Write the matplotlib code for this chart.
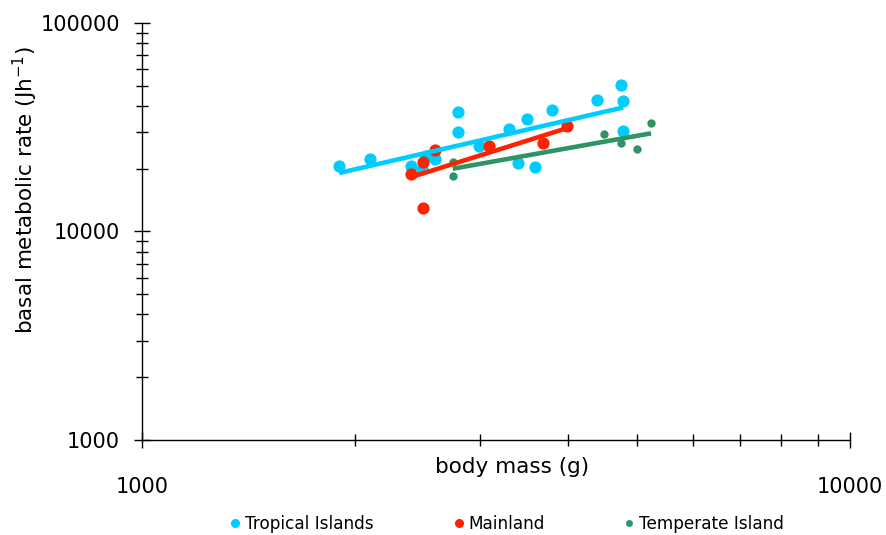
import numpy as np
import matplotlib
matplotlib.use("Agg")
from matplotlib import pyplot as plt
from matplotlib.lines import Line2D

plt.rcParams["font.family"] = ["DejaVu Sans"]

# body mass (g) and basal metabolic rate (J/h)
tropical_mass = [1898, 2099, 2399, 2486, 2518, 2594, 2798, 2798, 2995, 3299,
                 3394, 3495, 3594, 3797, 4392, 4745, 4781, 4784]
tropical_bmr = [20680, 22200, 20680, 20010, 23020, 22200, 37550, 30110, 25710, 31120,
                21380, 34640, 20460, 38260, 42870, 50430, 42400, 30240]

mainland_mass = [2396, 2496, 2594, 2496, 3094, 3688, 3987]
mainland_bmr = [18870, 21540, 24600, 12920, 25710, 26490, 32060]

temperate_mass = [2747, 2747, 4488, 4745, 4997, 5236]
temperate_bmr = [21620, 18460, 29260, 26490, 24960, 33030]

series = [
    ("Tropical Islands", tropical_mass, tropical_bmr, "#00CCFF", 8.8),
    ("Mainland", mainland_mass, mainland_bmr, "#FF2200", 8.8),
    ("Temperate Island", temperate_mass, temperate_bmr, "#2E9466", 6.0),
]

fig = plt.figure(figsize=(8.87, 5.35), dpi=100)
ax = fig.add_axes([0.1601, 0.1776, 0.7982, 0.7794])

for name, mass, bmr, color, ms in series:
    ax.plot(mass, bmr, "o", color=color, ms=ms, mec="none", zorder=2)

# power-law trendlines (fit in log space)
for name, mass, bmr, color, ms in series:
    lx, ly = np.log10(mass), np.log10(bmr)
    k, b = np.polyfit(lx, ly, 1)
    xs = np.array([min(mass), max(mass)])
    ax.plot(xs, 10 ** (k * np.log10(xs) + b), "-", color=color, lw=3.3, zorder=3,
            solid_capstyle="butt")

ax.set_xscale("log")
ax.set_yscale("log")
ax.set_xlim(1000, 10000)
ax.set_ylim(1000, 100000)

for side in ("top", "right"):
    ax.spines[side].set_visible(False)
for side in ("left", "bottom"):
    ax.spines[side].set_linewidth(1)

ax.set_xticks([1000, 10000])
ax.set_xticklabels(["1000", "10000"])
ax.set_yticks([1000, 10000, 100000])
ax.set_yticklabels(["1000", "10000", "100000"])
ax.tick_params(axis="both", which="major", direction="inout", length=12, width=1,
               labelsize=15)
ax.tick_params(axis="both", which="minor", direction="inout", length=9, width=1)
ax.tick_params(axis="x", which="major", pad=21)
ax.tick_params(axis="y", which="major", pad=10)
ax.xaxis.set_minor_formatter(plt.NullFormatter())
ax.yaxis.set_minor_formatter(plt.NullFormatter())

fig.text(512 / 887, 1 - 467 / 535, "body mass (g)", ha="center", va="center", fontsize=15.5)
fig.text(25 / 887, 1 - 190 / 535, "basal metabolic rate (Jh$^{-1}$)", rotation=90,
         ha="center", va="center", fontsize=15.5)

# legend entries placed one by one
legend_x = [231, 455, 625]
for (name, mass, bmr, color, ms), lx in zip(series, legend_x):
    h = Line2D([], [], marker="o", ls="none", color=color, mec="none",
               ms=6.5 if ms > 7 else 5)
    fig.legend([h], [name], loc="center left", bbox_to_anchor=(lx / 887, 1 - 524 / 535),
               frameon=False, borderpad=0, borderaxespad=0, handlelength=0.5,
               handletextpad=0.3, fontsize=12.2)

fig.savefig("out.png", dpi=100)
